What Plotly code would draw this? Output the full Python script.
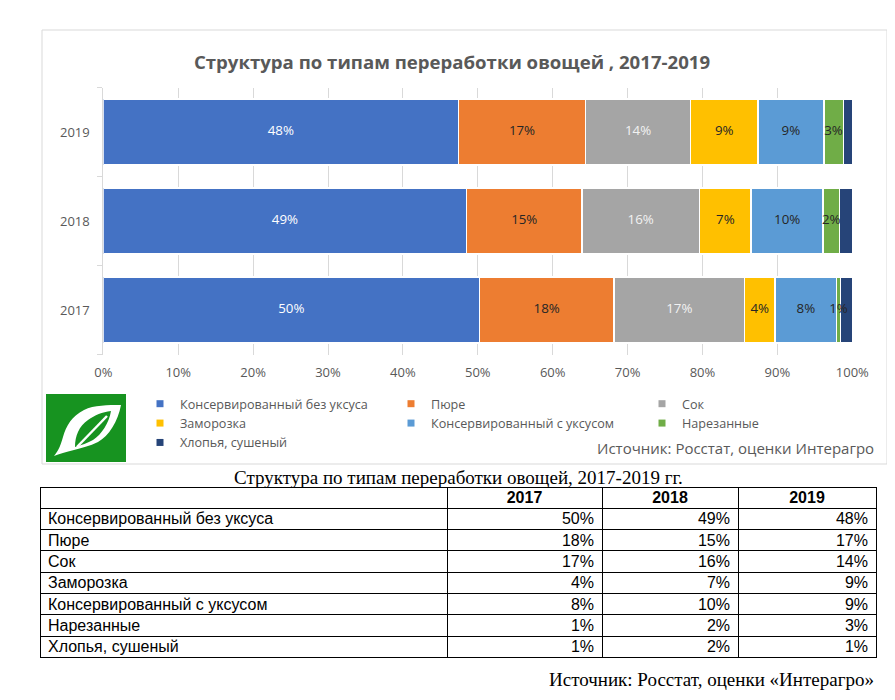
import plotly.graph_objects as go

W, H = 895, 700

years = ["2017", "2018", "2019"]
categories = ["Консервированный без уксуса", "Пюре", "Сок", "Заморозка",
              "Консервированный с уксусом", "Нарезанные", "Хлопья, сушеный"]
colors = ["#4472C4", "#ED7D31", "#A5A5A5", "#FFC000", "#5B9BD5", "#70AD47", "#264478"]
label_colors = ["#FFFFFF", "#262626", "#F2F2F2", "#262626", "#262626", "#262626", "#FFFFFF"]

# значения из таблицы, % (2017, 2018, 2019)
konserv_bez = [50, 49, 48]
pyure = [18, 15, 17]
sok = [17, 16, 14]
zamorozka = [4, 7, 9]
konserv_s = [8, 10, 9]
narezannye = [1, 2, 3]
hlopya = [1, 2, 1]

# ширина сегментов на диаграмме (по картинке), %
bar_konserv_bez = [50.2, 48.5, 47.4]
bar_pyure = [18.0, 15.4, 17.0]
bar_sok = [17.4, 15.7, 14.0]
bar_zamorozka = [4.1, 6.9, 9.0]
bar_konserv_s = [8.2, 9.6, 8.8]
bar_narezannye = [0.5, 2.2, 2.6]
bar_hlopya = [1.6, 1.7, 1.2]

table_vals = [konserv_bez, pyure, sok, zamorozka, konserv_s, narezannye, hlopya]
bar_vals = [bar_konserv_bez, bar_pyure, bar_sok, bar_zamorozka, bar_konserv_s,
            bar_narezannye, bar_hlopya]


# координаты страницы -> доли листа (у body отступ 8px)
def px(x):
    return (x - 8) / W


def py(y):
    return 1 - (y - 8) / H


fig = go.Figure()

for i, name in enumerate(categories):
    fig.add_trace(go.Bar(
        y=years, x=bar_vals[i], name=name, orientation="h", showlegend=False,
        marker=dict(color=colors[i], line=dict(color="white", width=1.5)),
        hoverinfo="skip",
    ))

# легенда с маленькими квадратами, как в Excel
for i, name in enumerate(categories):
    fig.add_trace(go.Scatter(
        x=[None], y=[None], name=name, mode="markers",
        marker=dict(symbol="square", size=7, color=colors[i]),
    ))

# подписи поверх всех сегментов
lx, ly, lt, lc = [], [], [], []
for j, yr in enumerate(years):
    start = 0
    for i in range(len(categories)):
        v = bar_vals[i][j]
        if i < len(categories) - 1:
            lx.append(start + v / 2)
            ly.append(yr)
            lt.append(f"{table_vals[i][j]}%")
            lc.append(label_colors[i])
        start += v
fig.add_trace(go.Scatter(x=lx, y=ly, text=lt, mode="text", showlegend=False,
                         textfont=dict(family="Open Sans", size=13.3, color=lc),
                         hoverinfo="skip", cliponaxis=False))

# таблица под диаграммой: сетка отдельно, текст чуть выше
nb = lambda s: s.replace(" ", "\u00a0")
cols = [[nb(c) for c in categories]]
for j in range(3):
    cols.append([f"{row[j]}%" for row in table_vals])
blank = [[""] * len(categories) for _ in range(4)]

row_h = 21.3
t_top, t_left, t_right = 487, 40, 876
colw = [407, 155, 136, 138]
tfont = dict(family="Liberation Sans", size=16, color="black")

fig.add_trace(go.Table(
    domain=dict(x=[px(t_left), px(t_right)], y=[py(t_top + 8 * row_h + 6), py(t_top)]),
    columnwidth=colw,
    header=dict(values=["", "", "", ""], height=row_h,
                line=dict(color="black", width=1), fill=dict(color="white"), font=tfont),
    cells=dict(values=blank, height=row_h,
               line=dict(color="black", width=1), fill=dict(color="white"), font=tfont),
))
shift = 4
fig.add_trace(go.Table(
    domain=dict(x=[px(t_left), px(t_right)], y=[py(t_top - shift + 8 * row_h + 6), py(t_top - shift)]),
    columnwidth=colw,
    header=dict(values=[""] + years, align="center", height=row_h,
                line=dict(color="rgba(0,0,0,0)", width=0), fill=dict(color="rgba(0,0,0,0)"),
                font=dict(family="Liberation Sans", size=16, color="black", weight="bold")),
    cells=dict(values=cols, align=["left", "right", "right", "right"], height=row_h,
               line=dict(color="rgba(0,0,0,0)", width=0), fill=dict(color="rgba(0,0,0,0)"),
               font=tfont),
))


# логотип (лист)
def path(cmds):
    out = ""
    for c, pts in cmds:
        out += c + " ".join(f"{px(46 + x):.5f},{py(394 + y):.5f}" for x, y in pts) + " "
    return out + "Z"

leaf_outer = [("M", [(8, 62)]), ("C", [(13, 56), (15, 50), (17, 43)]),
              ("C", [(20, 32), (26, 22), (38, 16)]), ("C", [(48, 11), (62, 11), (75, 11)]),
              ("C", [(72, 27), (63, 42), (52, 48)]), ("C", [(44, 52), (35, 54), (28, 56)]),
              ("C", [(20, 58), (13, 60), (8, 62)])]
leaf_inner = [("M", [(29, 53)]), ("C", [(29, 42), (33, 32), (42, 26)]),
              ("C", [(49, 21), (56, 18), (65, 17)]), ("C", [(63, 29), (56, 40), (47, 46)]),
              ("C", [(42, 49), (35, 51), (29, 53)])]

green = "#179320"
shapes = [
    dict(type="rect", xref="paper", yref="paper", x0=px(42), x1=px(887), y0=py(464), y1=py(30),
         line=dict(color="#D9D9D9", width=1), layer="below"),
    dict(type="rect", xref="paper", yref="paper", x0=px(46), x1=px(126), y0=py(462), y1=py(394),
         line=dict(width=0), fillcolor=green),
    dict(type="path", xref="paper", yref="paper", path=path(leaf_outer),
         line=dict(width=0), fillcolor="white"),
    dict(type="path", xref="paper", yref="paper", path=path(leaf_inner),
         line=dict(width=0), fillcolor=green),
    dict(type="line", xref="paper", yref="paper", x0=px(46 + 31), y0=py(394 + 53),
         x1=px(46 + 61), y1=py(394 + 22), line=dict(color="white", width=2.5)),
]

annotations = [
    dict(text="Источник: Росстат, оценки Интерагро", xref="paper", yref="paper",
         x=px(876), y=py(448), xanchor="right", yanchor="middle", showarrow=False,
         font=dict(family="Open Sans", size=15, color="#595959")),
    dict(text="Структура по типам переработки овощей, 2017-2019 гг.", xref="paper", yref="paper",
         x=px(459), y=py(477), xanchor="center", yanchor="middle", showarrow=False,
         font=dict(family="Liberation Serif", size=19, color="black")),
    dict(text="Источник: Росстат, оценки «Интерагро»", xref="paper", yref="paper",
         x=px(876), y=py(679), xanchor="right", yanchor="middle", showarrow=False,
         font=dict(family="Liberation Serif", size=19, color="black")),
]

fig.update_layout(
    width=W, height=H, margin=dict(l=0, r=0, t=0, b=0, autoexpand=False),
    paper_bgcolor="white", plot_bgcolor="white",
    barmode="stack", bargap=0.26,
    title=dict(text="<b>Структура по типам переработки овощей , 2017-2019</b>",
               x=px(452), y=py(62), xanchor="center", yanchor="middle",
               font=dict(family="Open Sans", size=18.6, color="#595959")),
    xaxis=dict(domain=[px(103.3), px(852.3)], range=[0, 100], dtick=10, ticksuffix="%",
               showgrid=True, gridcolor="#D9D9D9", gridwidth=1, zeroline=False,
               showline=False, ticks="", ticklabelstandoff=8,
               tickfont=dict(family="Open Sans", size=13, color="#595959")),
    yaxis=dict(domain=[py(354.5), py(87.5)], type="category",
               categoryorder="array", categoryarray=years,
               showline=True, linecolor="#D9D9D9", ticks="outside", ticklen=5,
               tickcolor="#D9D9D9", tickson="boundaries", showgrid=False,
               ticklabelstandoff=10,
               tickfont=dict(family="Open Sans", size=13, color="#595959")),
    legend=dict(orientation="h", x=px(140), y=py(389), xanchor="left", yanchor="top",
                entrywidth=206, entrywidthmode="pixels", traceorder="normal",
                itemwidth=30, itemsizing="trace",
                font=dict(family="Open Sans", size=12.6, color="#595959"),
                bgcolor="rgba(0,0,0,0)"),
    shapes=shapes, annotations=annotations,
)

fig.write_html("out.html")
